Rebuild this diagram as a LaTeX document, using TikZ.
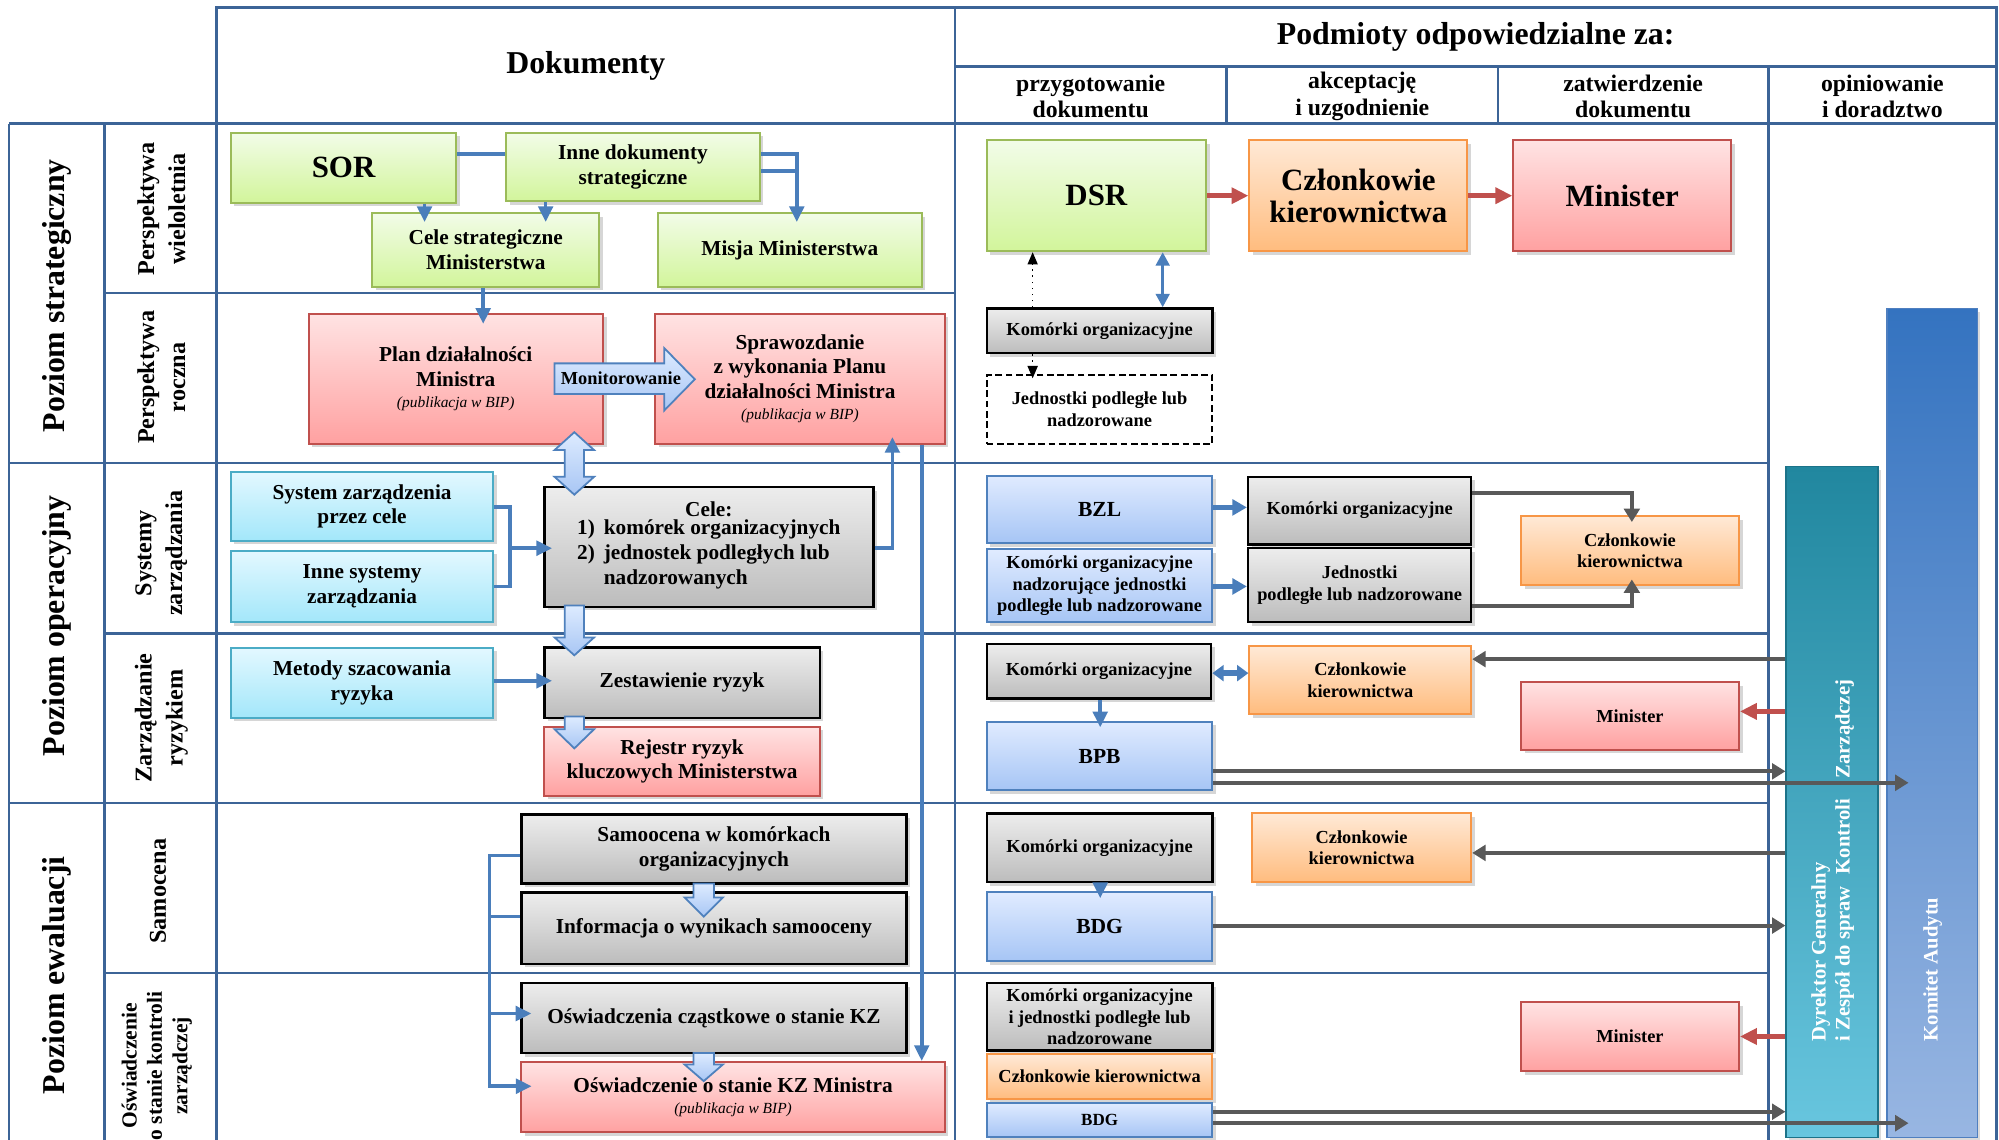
\documentclass[tikz,border=0pt]{standalone}
\usepackage{fontspec}
\setmainfont{Liberation Serif}
\usetikzlibrary{arrows.meta,shadows,calc}
\definecolor{gridblue}{HTML}{3C6497}
\definecolor{connblue}{HTML}{4A7EBB}
\definecolor{grnT}{HTML}{F2FCE8}\definecolor{grnB}{HTML}{D2F59B}\definecolor{grnD}{HTML}{9BBB59}
\definecolor{redT}{HTML}{FFE3E3}\definecolor{redB}{HTML}{FFA1A1}\definecolor{redD}{HTML}{C0504D}
\definecolor{orT}{HTML}{FFE9D6}\definecolor{orB}{HTML}{FFBC7E}\definecolor{orD}{HTML}{F79646}
\definecolor{gryT}{HTML}{EDEDED}\definecolor{gryB}{HTML}{BCBCBC}
\definecolor{cyT}{HTML}{E3F8FF}\definecolor{cyB}{HTML}{A3E7FA}\definecolor{cyD}{HTML}{4BACC6}
\definecolor{blT}{HTML}{E0EBFF}\definecolor{blB}{HTML}{A6C5F5}\definecolor{blD}{HTML}{4F81BD}
\definecolor{arrT}{HTML}{DDEBFF}\definecolor{arrB}{HTML}{A8C6F4}
\definecolor{dgray}{HTML}{595959}
\definecolor{tealT}{HTML}{21879F}\definecolor{tealB}{HTML}{68C6DF}\definecolor{tealD}{HTML}{1C7389}
\definecolor{kaT}{HTML}{3473C0}\definecolor{kaB}{HTML}{98B6E2}\definecolor{kaD}{HTML}{4F7FBF}
\newcommand\myBig{\fontsize{13.8pt}{14.2pt}\selectfont}
\newcommand\myMed{\fontsize{9.5pt}{10.9pt}\selectfont}
\newcommand\mySml{\fontsize{8.2pt}{9.7pt}\selectfont}
\newcommand\myItl{\fontsize{6.9pt}{8pt}\selectfont\mdseries\itshape}
\newcommand\myHd{\fontsize{14.2pt}{16pt}\selectfont}
\newcommand\myCol{\fontsize{10.6pt}{11.9pt}\selectfont}
\newcommand\mySub{\fontsize{10.8pt}{13.8pt}\selectfont}
\newcommand\myLev{\fontsize{14.2pt}{16pt}\selectfont}
\newcommand\myBar{\fontsize{9.2pt}{10.8pt}\selectfont}
% box from corner coordinates: name, style, x1, y1, x2, y2, text
\newcommand\bxn[7]{\node[#2, minimum width={(#5-#3)*0.02cm}, minimum height={(#6-#4)*0.02cm}]
  (#1) at ({(#3+#5)/2},{(#4+#6)/2}) {#7};}
\begin{document}
\begin{tikzpicture}[x=0.02cm,y=-0.02cm,
  grid/.style={draw=gridblue, line width=1.1pt},
  bx/.style={inner sep=0pt, align=center, font=\bfseries\myMed,
    drop shadow={shadow xshift=1.6pt, shadow yshift=-1.6pt, fill=black, opacity=0.16}},
  grnbox/.style={bx, draw=grnD, line width=0.9pt, top color=grnT, bottom color=grnB},
  redbox/.style={bx, draw=redD, line width=0.9pt, top color=redT, bottom color=redB},
  orbox/.style={bx, draw=orD, line width=0.9pt, top color=orT, bottom color=orB},
  grybox/.style={bx, draw=black, line width=1.1pt, top color=gryT, bottom color=gryB},
  cybox/.style={bx, draw=cyD, line width=0.9pt, top color=cyT, bottom color=cyB},
  blbox/.style={bx, draw=blD, line width=0.9pt, top color=blT, bottom color=blB},
  dashbox/.style={inner sep=0pt, align=center, font=\bfseries\mySml, draw=black, line width=0.9pt,
    dash pattern=on 3pt off 1.6pt, fill=white},
  barbox/.style={inner sep=0pt, line width=0.6pt,
    drop shadow={shadow xshift=1.4pt, shadow yshift=-1.4pt, fill=black, opacity=0.14}},
  cline/.style={draw=connblue, line width=1.6pt},
  carr/.style={cline, -{Triangle[length=7pt,width=6.5pt]}},
  cboth/.style={cline, {Triangle[length=6pt,width=6pt]}-{Triangle[length=6pt,width=6pt]}},
  bthick/.style={draw=connblue, line width=2.4pt, -{Triangle[length=6.5pt,width=7pt]}},
  bthickboth/.style={draw=connblue, line width=2.4pt, {Triangle[length=5pt,width=7pt]}-{Triangle[length=5pt,width=7pt]}},
  garr/.style={draw=dgray, line width=1.8pt, -{Triangle[length=6pt,width=7pt]}},
  rarr/.style={draw=redD, line width=2.4pt, -{Triangle[length=7.5pt,width=7pt]}},
  darr/.style={draw=black, line width=0.7pt, dotted, -{Triangle[length=5.5pt,width=4.5pt]}},
  barrow/.style={draw=blD, line width=0.8pt, top color=arrT, bottom color=arrB},
  lev/.style={rotate=90, font=\bfseries\myLev},
  sub/.style={rotate=90, align=center, font=\bfseries\mySub},
  hd/.style={align=center, font=\bfseries\myCol}
]
\useasboundingbox (0,0) rectangle (1568,894);
\fill[white] (0,0) rectangle (1568,894);

% ---------- grid ----------
\draw[grid] (170,6) rectangle (749,97);
\draw[grid] (749,6) rectangle (1566,97);
\draw[grid] (749,52) -- (1566,52);
\draw[grid] (962,52) -- (962,97) (1175,52) -- (1175,97);
\draw[grid] (1387,52) -- (1387,894);
\draw[grid] (7,97) -- (1566,97);
\draw[grid] (7,97) -- (7,894) (82,97) -- (82,894) (170,97) -- (170,894) (749,97) -- (749,894) (1566,97) -- (1566,894);
\draw[grid] (7,363) -- (1387,363) (7,630) -- (1387,630);
\draw[grid] (82,230) -- (749,230) (82,497) -- (1387,497) (82,763) -- (1387,763);

% ---------- headers ----------
\node[font=\bfseries\myHd] (hdok) at (459.5,52) {Dokumenty};
\node[font=\bfseries\myHd] (hpod) at (1157.5,29) {Podmioty odpowiedzialne za:};
\node[hd] (hc1) at (855.5,75.5) {przygotowanie\\dokumentu};
\node[hd] (hc2) at (1068.5,75.5) {akceptację\\i uzgodnienie};
\node[hd] (hc3) at (1281,75.5) {zatwierdzenie\\dokumentu};
\node[hd] (hc4) at (1476.5,75.5) {opiniowanie\\i doradztwo};

% ---------- row labels ----------
\node[lev] (lv1) at (44.5,232) {Poziom strategiczny};
\node[lev] (lv2) at (44.5,491) {Poziom operacyjny};
\node[lev] (lv3) at (44.5,765) {Poziom ewaluacji};
\node[sub] (sb1) at (126.5,164) {Perspektywa\\wieloletnia};
\node[sub] (sb2) at (126.5,296) {Perspektywa\\roczna};
\node[sub] (sb3) at (126.5,434) {Systemy\\zarządzania};
\node[sub] (sb4) at (126.5,563) {Zarządzanie\\ryzykiem};
\node[sub] (sb5) at (124,699) {Samocena};
\node[rotate=90, align=center, font=\bfseries\fontsize{9.6pt}{11.3pt}\selectfont] (sb6) at (123,836) {Oświadczenie\\o stanie kontroli\\zarządczej};

% ---------- documents ----------
\bxn{sor}{grnbox, font=\bfseries\myBig}{181}{104}{358}{159}{SOR}
\bxn{inne}{grnbox}{397}{104}{596}{158}{Inne dokumenty\\strategiczne}
\bxn{celes}{grnbox}{292}{167}{470}{225}{Cele strategiczne\\Ministerstwa}
\bxn{misja}{grnbox}{516}{167}{723}{225}{Misja Ministerstwa}
\bxn{plan}{redbox}{242}{246}{473}{348}{Plan działalności\\Ministra\\[-1.5pt]{\myItl (publikacja w BIP)}}
\bxn{spraw}{redbox}{514}{246}{741}{348}{Sprawozdanie\\z wykonania Planu\\działalności Ministra\\[-1.5pt]{\myItl (publikacja w BIP)}}

\bxn{sys}{cybox}{181}{370}{387}{424}{System zarządzenia\\przez cele}
\bxn{innesys}{cybox}{181}{432}{387}{488}{Inne systemy\\zarządzania}
\bxn{cele}{grybox, font=\bfseries\fontsize{9.5pt}{11.2pt}\selectfont}{427}{382}{685}{476}{Cele:\\[-1pt]\begin{tabular}{@{}l@{\hspace{4pt}}l@{}}1) & komórek organizacyjnych\\2) & jednostek podległych lub\\ & nadzorowanych\end{tabular}}
\bxn{metody}{cybox}{181}{508}{387}{563}{Metody szacowania\\ryzyka}
\bxn{zest}{grybox}{427}{508}{643}{563}{Zestawienie ryzyk}
\bxn{rej}{redbox}{427}{570}{643}{624}{Rejestr ryzyk\\kluczowych Ministerstwa}

\bxn{samo}{grybox}{409}{639}{711}{693}{Samoocena w komórkach\\organizacyjnych}
\bxn{info}{grybox}{409}{700}{711}{756}{Informacja o wynikach samooceny}
\bxn{czast}{grybox}{409}{771}{711}{826}{Oświadczenia cząstkowe o stanie KZ}
\bxn{kz}{redbox}{409}{833}{741}{888}{Oświadczenie o stanie KZ Ministra\\[-1.5pt]{\myItl (publikacja w BIP)}}

% ---------- responsible ----------
\bxn{dsr}{grnbox, font=\bfseries\myBig}{774}{110}{946}{197}{DSR}
\bxn{czl1}{orbox, font=\bfseries\myBig}{980}{110}{1151}{197}{Członkowie\\kierownictwa}
\bxn{min1}{redbox, font=\bfseries\myBig}{1187}{110}{1358}{197}{Minister}
\bxn{kom1}{grybox, font=\bfseries\mySml}{774}{242}{951}{277}{Komórki organizacyjne}
\bxn{jed1}{dashbox}{774}{294}{951}{348}{Jednostki podległe lub\\nadzorowane}

\bxn{bzl}{blbox, font=\bfseries\fontsize{9.6pt}{11pt}\selectfont}{774}{373}{951}{426}{BZL}
\bxn{komnad}{blbox, font=\bfseries\mySml}{774}{431}{951}{488}{Komórki organizacyjne\\nadzorujące jednostki\\podległe lub nadzorowane}
\bxn{kom2}{grybox, font=\bfseries\mySml}{979}{374}{1154}{427}{Komórki organizacyjne}
\bxn{jed2}{grybox, font=\bfseries\mySml}{979}{430}{1154}{488}{Jednostki\\podległe lub nadzorowane}
\bxn{czl2}{orbox, font=\bfseries\mySml}{1193}{405}{1364}{459}{Członkowie\\kierownictwa}

\bxn{kom3}{grybox, font=\bfseries\mySml}{774}{505}{950}{548}{Komórki organizacyjne}
\bxn{czl3}{orbox, font=\bfseries\mySml}{980}{507}{1154}{560}{Członkowie\\kierownictwa}
\bxn{min3}{redbox, font=\bfseries\mySml}{1193}{535}{1364}{588}{Minister}
\bxn{bpb}{blbox, font=\bfseries\fontsize{9.6pt}{11pt}\selectfont}{774}{566}{951}{620}{BPB}

\bxn{kom4}{grybox, font=\bfseries\mySml}{774}{638}{951}{692}{Komórki organizacyjne}
\bxn{czl4}{orbox, font=\bfseries\mySml}{982}{638}{1154}{692}{Członkowie\\kierownictwa}
\bxn{bdg1}{blbox, font=\bfseries\fontsize{9.6pt}{11pt}\selectfont}{774}{700}{951}{754}{BDG}

\bxn{kom5}{grybox, font=\bfseries\mySml}{774}{771}{951}{824}{Komórki organizacyjne\\i jednostki podległe lub\\nadzorowane}
\bxn{czl5}{orbox, font=\bfseries\mySml}{774}{827}{951}{862}{Członkowie kierownictwa}
\bxn{bdg2}{blbox, font=\bfseries\fontsize{7.6pt}{9pt}\selectfont}{774}{865}{951}{892}{BDG}
\bxn{min5}{redbox, font=\bfseries\mySml}{1193}{786}{1364}{840}{Minister}

% ---------- bars ----------
\bxn{dyr}{barbox, draw=tealD, top color=tealT, bottom color=tealB}{1401}{366}{1473}{892}{}
\bxn{komit}{barbox, draw=kaD, top color=kaT, bottom color=kaB}{1480}{242}{1551}{892}{}
\node[rotate=90, anchor=west, align=left, text=white, font=\bfseries\myBar] (dyrtxt) at (1437.5,823)
  {Dyrektor Generalny\\i Zespół do spraw\hspace{3pt} Kontroli\hspace{7pt} Zarządczej};
\node[rotate=90, anchor=west, text=white, font=\bfseries\myBar] (komtxt) at (1516,823) {Komitet Audytu};

% ---------- block arrows ----------
\path[barrow] (435,285) -- (521,285) -- (521,273) -- (545,297.5) -- (521,322) -- (521,309) -- (435,309) -- cycle;
\node[font=\bfseries\fontsize{8.2pt}{9pt}\selectfont] (mon) at (487,297) {Monitorowanie};
\path[barrow] (450.5,339) -- (466,353) -- (458,353) -- (458,374) -- (466,374) -- (450.5,388) -- (435,374) -- (443,374) -- (443,353) -- (435,353) -- cycle;
\path[barrow] (443,475) -- (458,475) -- (458,500) -- (466,500) -- (450.5,514) -- (435,500) -- (443,500) -- cycle;
\path[barrow] (443,562) -- (458,562) -- (458,572) -- (466,572) -- (450.5,587) -- (435,572) -- (443,572) -- cycle;
\path[barrow] (544,693) -- (560,693) -- (560,704) -- (567,704) -- (552,719) -- (537,704) -- (544,704) -- cycle;
\path[barrow] (544,826) -- (560,826) -- (560,835) -- (567,835) -- (552,848) -- (537,835) -- (544,835) -- cycle;

% ---------- blue connectors (documents) ----------
\coordinate (ij) at (625,134);
\draw[cline] (sor.east |- 0,121) -- (inne.west |- 0,121);
\draw[carr, shorten >=-4.5pt] (sor.south -| 333,0) -- (celes.north -| 333,0);
\draw[carr, shorten >=-4.5pt] (inne.south -| 428,0) -- (celes.north -| 428,0);
\draw[carr, shorten >=-4.5pt] (inne.east |- 0,121) -| (misja.north -| ij);
\draw[cline] (inne.east |- ij) -- (ij);
\draw[carr, shorten >=-5pt] (celes.south -| 379,0) -- (plan.north -| 379,0);
\draw[carr, shorten >=-3.4pt] (cele.east |- 0,430) -| (spraw.south -| 700,0);
\draw[carr] (spraw.south -| 723,0) -- (kz.north -| 723,0);
\coordinate (sj) at (400,430);
\draw[cline] (sys.east |- 0,397.6) -| (sj) |- (innesys.east |- 0,460);
\draw[carr, shorten >=-4pt] (sj) -- (cele.west |- sj);
\draw[carr, shorten >=-4pt] (metody.east |- 0,534) -- (zest.west |- 0,534);
\coordinate (ej) at (384,852);
\draw[carr, shorten >=-5pt] (samo.west |- 0,671) -| (ej) -- (kz.west |- ej);
\draw[cline] (ej |- 0,719) -- (info.west |- 0,719);
\draw[carr, shorten >=-5pt] (ej |- 0,795) -- (czast.west |- 0,795);

% ---------- connectors (responsible) ----------
\draw[rarr] (dsr.east) -- (czl1.west);
\draw[rarr] (czl1.east) -- (min1.west);
\draw[darr] (kom1.north -| 810,0) -- (dsr.south -| 810,0);
\draw[darr, shorten >=-2pt] (kom1.south -| 810,0) -- (jed1.north -| 810,0);
\draw[cboth] (dsr.south -| 912,0) -- (kom1.north -| 912,0);
\draw[bthick] (bzl.east |- 0,398) -- (kom2.west |- 0,398);
\draw[bthick] (komnad.east |- 0,460) -- (jed2.west |- 0,460);
\draw[garr, shorten >=-3pt] (kom2.east |- 0,387) -| (czl2.north -| 1280,0);
\draw[garr, shorten >=-3pt] (jed2.east |- 0,475) -| (czl2.south -| 1280,0);
\draw[bthickboth] (kom3.east |- 0,528) -- (czl3.west |- 0,528);
\draw[garr] (dyr.west |- 0,517) -- (czl3.east |- 0,517);
\draw[rarr] (dyr.west |- 0,558) -- (min3.east |- 0,558);
\draw[carr, shorten >=-3pt] (kom3.south -| 863,0) -- (bpb.north -| 863,0);
\draw[garr] (bpb.east |- 0,605) -- (dyr.west |- 0,605);
\draw[garr, shorten >=-10pt] (bpb.east |- 0,614) -- (komit.west |- 0,614);
\draw[garr] (dyr.west |- 0,669) -- (czl4.east |- 0,669);
\draw[carr, shorten >=-3pt] (kom4.south -| 863,0) -- (bdg1.north -| 863,0);
\draw[garr] (bdg1.east |- 0,726) -- (dyr.west |- 0,726);
\draw[rarr] (dyr.west |- 0,813) -- (min5.east |- 0,813);
\draw[garr] (bdg2.east |- 0,872) -- (dyr.west |- 0,872);
\draw[garr, shorten >=-10pt] (bdg2.east |- 0,881) -- (komit.west |- 0,881);
\end{tikzpicture}
\end{document}
